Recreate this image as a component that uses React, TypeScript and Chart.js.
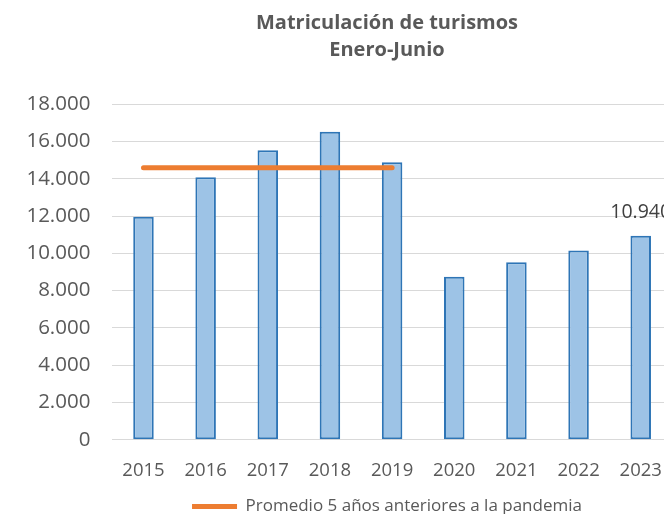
import React, { useEffect, useRef } from 'react';
import { Chart, registerables } from 'chart.js';

Chart.register(...registerables);

const years = ['2015', '2016', '2017', '2018', '2019', '2020', '2021', '2022', '2023'];
const registrations = [11970, 14080, 15530, 16530, 14890, 8750, 9520, 10150, 10940];
const preCovidAverage = [14600, 14600, 14600, 14600, 14600, null, null, null, null];
const labelledIndex = 8;
const chartTitle = ['Matriculación de turismos', 'Enero-Junio'];
const legendLabel = 'Promedio 5 años anteriores a la pandemia';
const yMin = 0;
const yMax = 18000;
const yStep = 2000;

const FONT = "'Open Sans', 'Noto Sans', sans-serif";
const fmt = (v: number) => String(Math.round(v)).replace(/\B(?=(\d{3})+(?!\d))/g, '.');

const valueLabelPlugin = {
  id: 'valueLabel',
  afterDatasetsDraw(chart: any) {
    const meta = chart.getDatasetMeta(0);
    const el = meta.data[labelledIndex];
    if (!el) return;
    const ctx = chart.ctx;
    ctx.save();
    ctx.font = `19.5px ${FONT}`;
    ctx.fillStyle = '#404040';
    ctx.textAlign = 'center';
    ctx.textBaseline = 'middle';
    ctx.fillText(fmt(registrations[labelledIndex]), el.x, el.y - 23);
    ctx.restore();
  },
};

export default function App() {
  const ref = useRef<HTMLCanvasElement | null>(null);

  useEffect(() => {
    if (!ref.current) return;
    const chart = new Chart(ref.current, {
      type: 'bar',
      data: {
        labels: years,
        datasets: [
          {
            type: 'bar',
            label: 'Matriculaciones',
            data: registrations,
            backgroundColor: '#9DC3E6',
            borderColor: '#2E75B6',
            borderWidth: 2,
            borderSkipped: false,
            categoryPercentage: 1,
            barPercentage: 0.33,
            order: 2,
          },
          {
            type: 'line',
            label: legendLabel,
            data: preCovidAverage,
            borderColor: '#ED7D31',
            backgroundColor: '#ED7D31',
            borderWidth: 5,
            borderCapStyle: 'round',
            pointRadius: 0,
            pointHoverRadius: 0,
            spanGaps: false,
            order: 1,
          } as any,
        ],
      },
      options: {
        responsive: false,
        animation: false,
        layout: { padding: 0 },
        plugins: {
          title: {
            display: true,
            text: chartTitle,
            color: '#595959',
            font: { family: FONT, size: 20, weight: 'bold', lineHeight: 1.345 },
            padding: { top: 10, bottom: 40.5 },
          },
          legend: {
            display: true,
            position: 'bottom',
            labels: {
              filter: (item: any) => item.datasetIndex === 1,
              usePointStyle: true,
              pointStyle: 'line',
              pointStyleWidth: 45,
              color: '#595959',
              font: { family: FONT, size: 17 },
              padding: 10,
            },
          },
          tooltip: { enabled: false },
        },
        scales: {
          x: {
            grid: { display: false },
            border: { display: false },
            ticks: {
              color: '#595959',
              font: { family: FONT, size: 18.5 },
              padding: 12,
              maxRotation: 0,
              autoSkip: false,
            },
            afterFit: (s: any) => {
              s.height = 48.3;
            },
          },
          y: {
            min: yMin,
            max: yMax,
            grid: { color: '#D9D9D9', lineWidth: 1, drawTicks: false },
            border: { display: false },
            ticks: {
              stepSize: yStep,
              color: '#595959',
              font: { family: FONT, size: 20.5 },
              padding: 22,
              callback: (v: any) => fmt(Number(v)),
            },
            afterFit: (s: any) => {
              s.width = 112.4;
            },
          },
          yR: {
            type: 'linear',
            position: 'right',
            grid: { display: false },
            border: { display: false },
            ticks: { display: false },
            afterFit: (s: any) => {
              s.width = 102.2;
            },
          },
        },
      } as any,
      plugins: [valueLabelPlugin],
    });
    return () => chart.destroy();
  }, []);

  return (
    <div
      style={{
        position: 'fixed',
        left: 0,
        top: 0,
        width: 664,
        height: 514,
        overflow: 'hidden',
        background: '#ffffff',
      }}
    >
      <canvas ref={ref} width={774} height={525} style={{ display: 'block', width: 774, height: 525 }} />
    </div>
  );
}
